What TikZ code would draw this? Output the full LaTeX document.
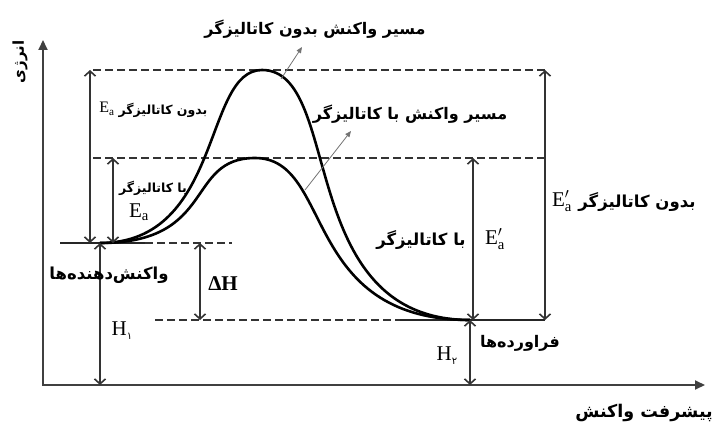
\documentclass[tikz,border=0pt]{standalone}
\usepackage{fontspec}
\setmainfont{Liberation Serif}
\newfontfamily\fa[Script=Arabic]{DejaVu Sans}
\TeXXeTstate=1
\usetikzlibrary{arrows.meta}
\newcommand\fasz[1]{\fa\bfseries\fontsize{#1}{#1}\selectfont}
\begin{document}
\begin{tikzpicture}[x=1pt,y=-1pt,
  axis/.style={line width=2pt, draw=black!75},
  dimarr/.style={line width=1.6pt, draw=black!80,
    {Straight Barb[length=5pt,width=11pt,line width=1.6pt]}-{Straight Barb[length=5pt,width=11pt,line width=1.6pt]}},
  lvl/.style={line width=1.6pt, draw=black!80, dash pattern=on 8pt off 4pt},
  solidlvl/.style={line width=1.6pt, draw=black!85},
  pathcurve/.style={line width=2.6pt, draw=black},
  ptr/.style={line width=0.8pt, draw=black!55, -{Triangle[length=6pt,width=5pt]}},
  fa/.style={inner sep=0pt},
  latin/.style={font=\fontsize{21}{23}\selectfont, inner sep=0pt},
  latinsmall/.style={font=\fontsize{16}{18}\selectfont, inner sep=0pt},
]
\useasboundingbox (0,0) rectangle (712,428);
% coordinates
\coordinate (ytop) at (43,40);
\coordinate (orig) at (43,385);
\coordinate (xend) at (705,385);
\coordinate (t1) at (93,70);   \coordinate (t2) at (545,70);
\coordinate (m1) at (93,158);  \coordinate (m2) at (545,158);
\coordinate (r1) at (60,243);  \coordinate (r2) at (145,243); \coordinate (r3) at (232,243);
\coordinate (p1) at (155,320); \coordinate (p2) at (400,320); \coordinate (p3) at (545,320);
\coordinate (start) at (100,243);
\coordinate (peakU) at (262,70);
\coordinate (peakC) at (255,158);
\coordinate (finish) at (470,320);
% axes
\draw[axis, {Triangle[length=10pt,width=9pt]}-{Triangle[length=10pt,width=9pt]}] (ytop) -- (orig) -- (xend);
% levels
\draw[lvl] (t1) -- (t2);
\draw[lvl] (m1) -- (m2);
\draw[solidlvl] (r1) -- (r2);
\draw[lvl] (r2) -- (r3);
\draw[lvl] (p1) -- (p2);
\draw[solidlvl] (p2) -- (p3);
% curves
\draw[pathcurve] (start) .. controls (223,243) and (203,70) .. (peakU)
                         .. controls (344,70) and (294,320) .. (finish);
\draw[pathcurve] (start) .. controls (217,243) and (185,158) .. (peakC)
                         .. controls (334,158) and (300,320) .. (finish);
% dimension arrows
\coordinate (a1) at (90,243);  \coordinate (a2) at (90,70);
\coordinate (b1) at (113,243); \coordinate (b2) at (113,158);
\coordinate (h1a) at (100,243); \coordinate (h1b) at (100,385);
\coordinate (d1) at (200,243); \coordinate (d2) at (200,320);
\coordinate (e1) at (473,320); \coordinate (e2) at (473,158);
\coordinate (f1) at (545,320); \coordinate (f2) at (545,70);
\coordinate (h2a) at (470,320); \coordinate (h2b) at (470,385);
\draw[dimarr] (a1) -- (a2);
\draw[dimarr] (b1) -- (b2);
\draw[dimarr] (h1a) -- (h1b);
\draw[dimarr] (d1) -- (d2);
\draw[dimarr] (e1) -- (e2);
\draw[dimarr] (f1) -- (f2);
\draw[dimarr] (h2a) -- (h2b);
% labels
\node[fa] (titleU) at (315,29) {\fasz{16}\beginR مسیر واکنش بدون کاتالیزگر\endR};
\node[fa] (titleC) at (410,114) {\fasz{16}\beginR مسیر واکنش با کاتالیزگر\endR};
\coordinate (pu1) at (281,79); \coordinate (pu2) at (302,47);
\coordinate (pc1) at (305,190); \coordinate (pc2) at (351,131);
\draw[ptr] (pu1) -- (pu2);
\draw[ptr] (pc1) -- (pc2);
\node[latinsmall] (eaU) at (107,109) {E$_{\mathrm{a}}$};
\node[fa] (bdU) at (163,110) {\fasz{12.5}\beginR بدون کاتالیزگر\endR};
\node[fa] (baC) at (153,188) {\fasz{12.5}\beginR با کاتالیزگر\endR};
\node[latin] (eaC) at (139,212) {E$_{\mathrm{a}}$};
\node[fa] (react) at (109,275) {\fasz{16.5}\beginR واکنش‌دهنده‌ها\endR};
\node[latin] (dH) at (223,284) {\textbf{ΔH}};
\node[latin] (H1) at (122,331) {H\raisebox{-4pt}{\fa\fontsize{10}{10}\selectfont ۱}};
\node[fa] (baR) at (421,240) {\fasz{16.5}\beginR با کاتالیزگر\endR};
\node[latin] (epC) at (495,239) {E$'_{\mathrm{a}}$};
\node[latin] (epU) at (562,201) {E$'_{\mathrm{a}}$};
\node[fa] (bdR) at (637,202) {\fasz{16.5}\beginR بدون کاتالیزگر\endR};
\node[latin] (H2) at (447,356) {H\raisebox{-4pt}{\fa\fontsize{10}{10}\selectfont ۲}};
\node[fa] (prod) at (520,343) {\fasz{16}\beginR فراورده‌ها\endR};
\node[fa] (xlab) at (644,413) {\fasz{17.5}\beginR پیشرفت واکنش\endR};
\node[fa, rotate=90] (ylab) at (20,62) {\fasz{15}\beginR انرژی\endR};
\end{tikzpicture}
\end{document}
